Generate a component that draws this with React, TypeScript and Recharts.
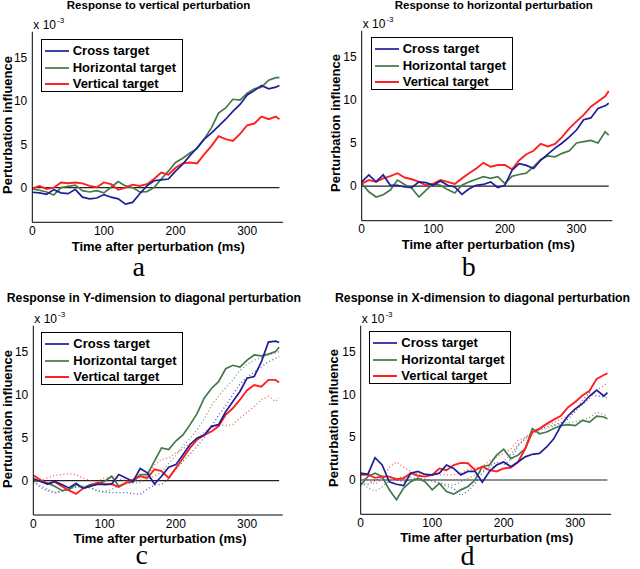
import { LineChart, Line, XAxis, YAxis, ReferenceLine } from 'recharts';

// time after perturbation (ms)
const T = [0, 10, 20, 30, 40, 50, 60, 70, 80, 90, 100, 110, 120, 130, 140, 150, 160, 170, 180, 190, 200, 210, 220, 230, 240, 250, 260, 270, 280, 290, 300, 310, 320, 330, 340, 345];

// panel a - response to vertical perturbation (x 10^-3)
const aCross = [-0.53, -0.6, -0.76, -0.23, -0.6, -0.7, -0.2, -1.1, -1.3, -1.2, -0.8, -1.1, -1.3, -1.9, -1.7, -0.7, 0.2, 0.8, 0.9, 1.0, 1.9, 2.7, 3.7, 4.6, 5.6, 6.3, 7.1, 7.9, 8.8, 9.6, 10.7, 11.2, 11.8, 11.4, 11.6, 11.8];
const aHoriz = [-0.15, -0.3, -0.5, -0.85, 0, 0.15, 0.3, -0.35, -0.5, -0.35, -0.6, 0.05, 0.7, 0.2, 0, -0.5, -0.45, 0, 1.0, 1.9, 2.9, 3.4, 4.0, 4.5, 5.6, 6.9, 8.6, 9.2, 10.2, 10.1, 10.9, 11.4, 11.6, 12.4, 12.7, 12.7];
const aVert = [-0.1, 0.2, -0.15, 0, 0.6, 0.5, 0.6, 0.5, 0.2, 0.05, 0.6, 0.4, -0.25, 0, 0.35, 0.2, 0.4, 1.0, 1.75, 1.5, 2.3, 2.8, 2.9, 2.8, 3.85, 4.8, 5.95, 5.6, 5.4, 6.2, 7.2, 7.4, 8.2, 7.9, 8.2, 7.9];

// panel b - response to horizontal perturbation
const bCross = [0.5, 1.3, 0.5, 1.3, 0.1, 0.1, -0.1, -0.15, 0.5, 0.4, 0.1, 0.6, 0.1, -0.1, -0.95, -0.3, 0.1, 0.2, 0.5, -0.15, 0.1, 1.85, 2.6, 2.4, 2.05, 3.0, 3.7, 4.4, 5.0, 5.7, 6.5, 7.7, 7.9, 9.0, 9.3, 9.6];
const bHoriz = [0.3, -0.65, -1.25, -1.0, -0.45, 0.7, 0.2, -0.25, -1.25, -0.45, 0.3, 0.1, -0.4, -0.8, 0.1, 0.5, 0.8, 1.1, 0.9, 1.1, 0.3, 1.15, 1.35, 1.5, 2.25, 3.1, 3.5, 3.4, 3.8, 4.1, 5.0, 5.15, 5.3, 5.0, 6.3, 5.9];
const bVert = [0.3, 0.7, 0.5, 0.9, 1.15, 1.5, 1.0, 0.8, 0.5, 0.1, 0.3, 0.7, 0.5, 0.25, 0.9, 1.5, 2.05, 2.7, 2.25, 2.45, 2.45, 1.95, 3.0, 3.7, 4.1, 4.9, 4.6, 4.9, 5.7, 6.7, 7.5, 8.25, 9.2, 9.8, 10.4, 11.0];

// panel c - Y-dimension, diagonal perturbation (solid and dotted)
const cCross = [0.25, -0.1, -0.4, -0.1, -0.45, -0.85, -0.3, -0.9, -0.65, -0.45, -0.45, -0.4, 0.7, 0.3, -0.1, 1.4, 0.9, -0.4, 0.5, 1.55, 1.85, 3.0, 4.2, 4.95, 5.3, 6.3, 6.5, 8.0, 9.2, 10.35, 11.9, 12.1, 13.8, 16.1, 16.2, 16.05];
const cHoriz = [-0.1, 0, -0.3, -0.65, -1.15, -1.05, -0.45, -0.85, -0.45, -0.3, -0.1, 0.5, -0.65, -0.25, -0.15, 0.7, 0.7, 2.25, 3.8, 3.6, 4.6, 5.3, 6.5, 7.8, 9.6, 10.7, 11.5, 13.0, 13.4, 13.2, 14.0, 14.6, 14.5, 14.7, 15.0, 15.5];
const cVert = [0.6, 0.1, -0.4, -0.15, -0.65, -1.15, -1.55, -0.9, -0.65, -0.25, -0.45, -0.4, -0.75, -0.25, 0.1, 0.5, 0.3, 1.3, 1.1, 0.3, 1.45, 2.6, 3.8, 4.75, 5.3, 5.7, 6.3, 7.65, 8.4, 9.4, 10.5, 11.1, 10.9, 11.7, 11.7, 11.4];
const cCrossDot = [-0.1, -0.8, -1.2, -1.4, -1.2, -0.95, -0.8, -0.7, -0.85, -1.2, -1.35, -1.4, -1.4, -1.4, -1.5, -1.6, -1.0, -0.5, -0.45, 0.2, 1.3, 2.2, 3.1, 4.0, 5.0, 6.3, 7.6, 8.7, 10.0, 11.2, 12.0, 12.6, 13.2, 13.8, 14.2, 14.4];
const cHorizDot = [-0.2, -0.6, -1.0, -1.4, -1.3, -1.0, -0.7, -0.6, -0.8, -1.2, -1.3, -1.0, -0.6, -0.4, -0.3, -0.2, 0.2, 0.5, 1.0, 2.0, 2.9, 4.0, 4.9, 5.9, 7.2, 8.7, 9.8, 10.8, 11.7, 12.8, 13.5, 14.0, 14.3, 14.6, 14.8, 15.0];
const cVertDot = [-0.3, 0.0, 0.3, 0.6, 0.7, 0.8, 0.7, 0.3, 0.0, -0.1, 0.3, 0.5, 0.2, 0.0, -0.1, 0.0, 0.5, 1.8, 2.5, 2.6, 3.2, 3.7, 4.3, 4.9, 5.6, 6.1, 6.5, 6.4, 6.5, 7.3, 7.9, 8.6, 9.4, 9.8, 9.2, 9.6];

// panel d - X-dimension, diagonal perturbation (solid and dotted)
const dCross = [0.8, 0.65, 2.6, 1.75, -0.2, -0.5, -0.65, 0.8, 1.0, 0.65, 0.6, 0.8, 1.75, 1.35, 0.6, 1.0, 1.0, -0.25, 1.0, 1.75, 2.1, 1.55, 2.1, 2.7, 3.0, 3.1, 3.85, 4.8, 6.35, 7.5, 8.3, 8.9, 9.8, 10.5, 9.8, 10.2];
const dHoriz = [-0.6, 0.4, 0.8, 0.4, -1.15, -2.3, -0.95, -0.2, 0.2, -0.2, -1.15, -0.4, -1.35, -1.65, -1.15, -0.75, 0, 1.55, 1.75, 2.9, 3.6, 2.5, 2.9, 3.65, 6.0, 5.4, 5.6, 6.0, 6.35, 6.45, 6.35, 6.95, 6.75, 7.45, 7.35, 7.15];
const dVert = [0.6, 0.65, 0.25, 0.4, 0.4, 0.1, 0.2, 0.8, 0.5, 0.4, 0.6, 1.35, 1.15, 1.75, 2.0, 1.95, 1.15, 1.55, 1.15, 1.0, 1.35, 1.45, 2.1, 3.65, 5.6, 6.0, 6.55, 7.05, 7.5, 8.5, 9.1, 9.85, 10.4, 11.8, 12.25, 12.45];
const dCrossDot = [-0.4, -0.5, -0.1, 0.3, 0.3, 0.0, -0.2, 0.0, 0.2, 0.1, -0.1, -0.4, -0.7, -1.0, -1.8, -1.3, -0.4, 0.8, 1.6, 2.1, 1.8, 2.4, 4.0, 4.8, 5.4, 5.9, 6.2, 6.4, 6.7, 7.1, 8.0, 9.3, 10.2, 9.8, 9.7, 9.6];
const dHorizDot = [-0.3, -0.9, -1.3, -0.8, -0.1, 0.2, 0.4, 0.3, 0.1, 0.0, -0.1, -0.3, -0.5, -0.6, -0.2, 0.2, 0.6, 1.1, 1.4, 1.7, 2.2, 3.0, 4.1, 4.9, 5.5, 5.8, 6.0, 6.3, 6.6, 6.7, 6.8, 7.0, 7.3, 7.9, 7.6, 7.5];
const dVertDot = [0.3, 0.0, -0.5, 0.1, 1.5, 2.1, 1.5, 1.0, 0.7, 0.6, 0.6, 0.6, 0.6, 0.6, 0.9, 1.2, 1.4, 1.6, 2.2, 2.7, 3.1, 3.6, 4.6, 5.0, 5.5, 5.9, 6.4, 6.7, 7.1, 7.5, 8.0, 8.8, 9.5, 10.5, 11.0, 11.4];

const X_TICKS = [0, 100, 200, 300];
const Y_TICKS = [0, 5, 10, 15];
const LEGEND = ['Cross target', 'Horizontal target', 'Vertical target'];

const BLUE = '#1e1e96';
const GREEN = '#44784a';
const RED = '#ff2020';
const SANS = '"Liberation Sans", Arial, Helvetica, sans-serif';
const Y_AXIS_W = 30;
const X_AXIS_H = 20;

type Box = { l: number; t: number; r: number; b: number };

interface PanelProps {
  x: number;
  y: number;
  w: number;
  h: number;
  plot: Box;
  cross: number[];
  horiz: number[];
  vert: number[];
  dots?: number[][];
  title: string;
  titleX: number;
  titleTop: number;
  titleSize: number;
  legend: { x: number; y: number };
  xLabel: { x: number; y: number };
  yLabel: { x: number; y: number };
  caption: string;
  capX: number;
  capY: number;
}

function Panel(p: PanelProps) {
  const data = T.map((t, i) => ({
    t,
    cross: p.cross[i],
    horiz: p.horiz[i],
    vert: p.vert[i],
    crossDot: p.dots ? p.dots[0][i] : undefined,
    horizDot: p.dots ? p.dots[1][i] : undefined,
    vertDot: p.dots ? p.dots[2][i] : undefined,
  }));
  const margin = {
    left: p.plot.l - p.x - Y_AXIS_W,
    top: p.plot.t - p.y,
    right: p.x + p.w - p.plot.r,
    bottom: p.y + p.h - p.plot.b - X_AXIS_H,
  };
  const colors = [BLUE, GREEN, RED];

  return (
    <>
      <div style={{ position: 'absolute', left: p.x, top: p.y }}>
        <LineChart width={p.w} height={p.h} data={data} margin={margin}>
          <XAxis
            type="number"
            dataKey="t"
            domain={[0, 350]}
            ticks={X_TICKS}
            allowDataOverflow
            height={X_AXIS_H}
            tickLine={false}
            tickSize={0}
            tickMargin={4}
            axisLine={{ stroke: '#000', strokeWidth: 1 }}
            tick={{ fill: '#000', fontSize: 12, fontFamily: SANS }}
          />
          <YAxis
            type="number"
            domain={[-4, 18]}
            ticks={Y_TICKS}
            allowDataOverflow
            width={Y_AXIS_W}
            tickLine={false}
            tickSize={0}
            tickMargin={5}
            axisLine={{ stroke: '#000', strokeWidth: 1 }}
            tick={{ fill: '#000', fontSize: 12, fontFamily: SANS }}
          />
          <ReferenceLine segment={[{ x: 0, y: 0 }, { x: 345, y: 0 }]} stroke="#222" strokeWidth={1.2} />
          {p.dots && (
            <Line type="linear" dataKey="crossDot" stroke={BLUE} strokeWidth={1.3} strokeDasharray="1 2.5" strokeOpacity={0.75} dot={false} isAnimationActive={false} />
          )}
          {p.dots && (
            <Line type="linear" dataKey="horizDot" stroke={GREEN} strokeWidth={1.3} strokeDasharray="1 2.5" strokeOpacity={0.75} dot={false} isAnimationActive={false} />
          )}
          {p.dots && (
            <Line type="linear" dataKey="vertDot" stroke={RED} strokeWidth={1.3} strokeDasharray="1 2.5" strokeOpacity={0.75} dot={false} isAnimationActive={false} />
          )}
          <Line type="linear" dataKey="horiz" stroke={GREEN} strokeWidth={1.7} dot={false} isAnimationActive={false} />
          <Line type="linear" dataKey="vert" stroke={RED} strokeWidth={1.9} dot={false} isAnimationActive={false} />
          <Line type="linear" dataKey="cross" stroke={BLUE} strokeWidth={1.7} dot={false} isAnimationActive={false} />
        </LineChart>
      </div>

      {/* title */}
      <div
        style={{
          position: 'absolute',
          left: p.titleX - 200,
          width: 400,
          top: p.titleTop,
          textAlign: 'center',
          fontFamily: SANS,
          fontWeight: 'bold',
          fontSize: p.titleSize,
          lineHeight: `${p.titleSize}px`,
          whiteSpace: 'nowrap',
        }}
      >
        {p.title}
      </div>

      {/* exponent */}
      <div style={{ position: 'absolute', left: p.plot.l + 1, top: p.plot.t - 12.5, fontFamily: SANS, fontSize: 12, lineHeight: '12px', whiteSpace: 'nowrap' }}>
        x 10<span style={{ fontSize: 8, position: 'relative', top: -6, marginLeft: 1 }}>-3</span>
      </div>

      {/* legend */}
      <div
        style={{
          position: 'absolute',
          left: p.legend.x,
          top: p.legend.y,
          width: 142,
          height: 53,
          border: '1px solid #000',
          background: '#fff',
          boxSizing: 'border-box',
        }}
      >
        {LEGEND.map((name, i) => (
          <div key={name} style={{ position: 'absolute', left: 0, top: 3 + i * 16.6, height: 16, width: 140 }}>
            <svg width={30} height={16} style={{ position: 'absolute', left: 2, top: 0 }}>
              <line x1={1} x2={25} y1={8} y2={8} stroke={colors[i]} strokeWidth={i === 2 ? 2 : 1.7} />
            </svg>
            <span style={{ position: 'absolute', left: 31, top: 0, fontFamily: SANS, fontWeight: 'bold', fontSize: 13, lineHeight: '16px', whiteSpace: 'nowrap' }}>
              {name}
            </span>
          </div>
        ))}
      </div>

      {/* x label (y = baseline) */}
      <div
        style={{
          position: 'absolute',
          left: p.xLabel.x - 150,
          width: 300,
          top: p.xLabel.y - 10,
          textAlign: 'center',
          fontFamily: SANS,
          fontWeight: 'bold',
          fontSize: 13,
          lineHeight: '11px',
          whiteSpace: 'nowrap',
        }}
      >
        Time after perturbation (ms)
      </div>

      {/* y label */}
      <div
        style={{
          position: 'absolute',
          left: p.yLabel.x - 100,
          top: p.yLabel.y - 8,
          width: 200,
          height: 16,
          textAlign: 'center',
          fontFamily: SANS,
          fontWeight: 'bold',
          fontSize: 13,
          lineHeight: '16px',
          transform: 'rotate(-90deg)',
          whiteSpace: 'nowrap',
        }}
      >
        Perturbation influence
      </div>

      {/* caption */}
      <div
        style={{
          position: 'absolute',
          left: p.capX - 20,
          width: 40,
          top: p.capY - 19.5,
          textAlign: 'center',
          fontFamily: '"Liberation Serif", "Times New Roman", serif',
          fontSize: 28,
          lineHeight: '20px',
        }}
      >
        {p.caption}
      </div>
    </>
  );
}

export default function App() {
  return (
    <div style={{ position: 'absolute', left: 0, top: 0, width: 640, height: 569, background: '#fff', overflow: 'hidden' }}>
      <Panel
        x={0} y={0} w={320} h={285}
        plot={{ l: 32.3, t: 31.7, r: 283, b: 222.3 }}
        cross={aCross} horiz={aHoriz} vert={aVert}
        title="Response to vertical perturbation" titleX={158.5} titleTop={0} titleSize={11.5}
        legend={{ x: 40.7, y: 39.3 }}
        xLabel={{ x: 158.3, y: 250.5 }}
        yLabel={{ x: 8, y: 125 }}
        caption="a" capX={138.7} capY={276}
      />
      <Panel
        x={320} y={0} w={320} h={285}
        plot={{ l: 361.7, t: 30.7, r: 612.3, b: 220.7 }}
        cross={bCross} horiz={bHoriz} vert={bVert}
        title="Response to horizontal perturbation" titleX={493.8} titleTop={0} titleSize={11.5}
        legend={{ x: 370.7, y: 37.3 }}
        xLabel={{ x: 488.3, y: 249 }}
        yLabel={{ x: 336, y: 123.3 }}
        caption="b" capX={468.7} capY={276}
      />
      <Panel
        x={0} y={285} w={320} h={284}
        plot={{ l: 33.3, t: 325.7, r: 282.7, b: 515 }}
        cross={cCross} horiz={cHoriz} vert={cVert}
        dots={[cCrossDot, cHorizDot, cVertDot]}
        title="Response in Y-dimension to diagonal perturbation" titleX={153.8} titleTop={292} titleSize={12.3}
        legend={{ x: 41.3, y: 332.3 }}
        xLabel={{ x: 160, y: 542.5 }}
        yLabel={{ x: 7.5, y: 419 }}
        caption="c" capX={141.7} capY={564}
      />
      <Panel
        x={320} y={285} w={320} h={284}
        plot={{ l: 360.7, t: 325.7, r: 611, b: 514.3 }}
        cross={dCross} horiz={dHoriz} vert={dVert}
        dots={[dCrossDot, dHorizDot, dVertDot]}
        title="Response in X-dimension to diagonal perturbation" titleX={482.5} titleTop={291.5} titleSize={12.3}
        legend={{ x: 369.3, y: 331 }}
        xLabel={{ x: 486.7, y: 542 }}
        yLabel={{ x: 334, y: 418.3 }}
        caption="d" capX={467.5} capY={565}
      />
    </div>
  );
}
